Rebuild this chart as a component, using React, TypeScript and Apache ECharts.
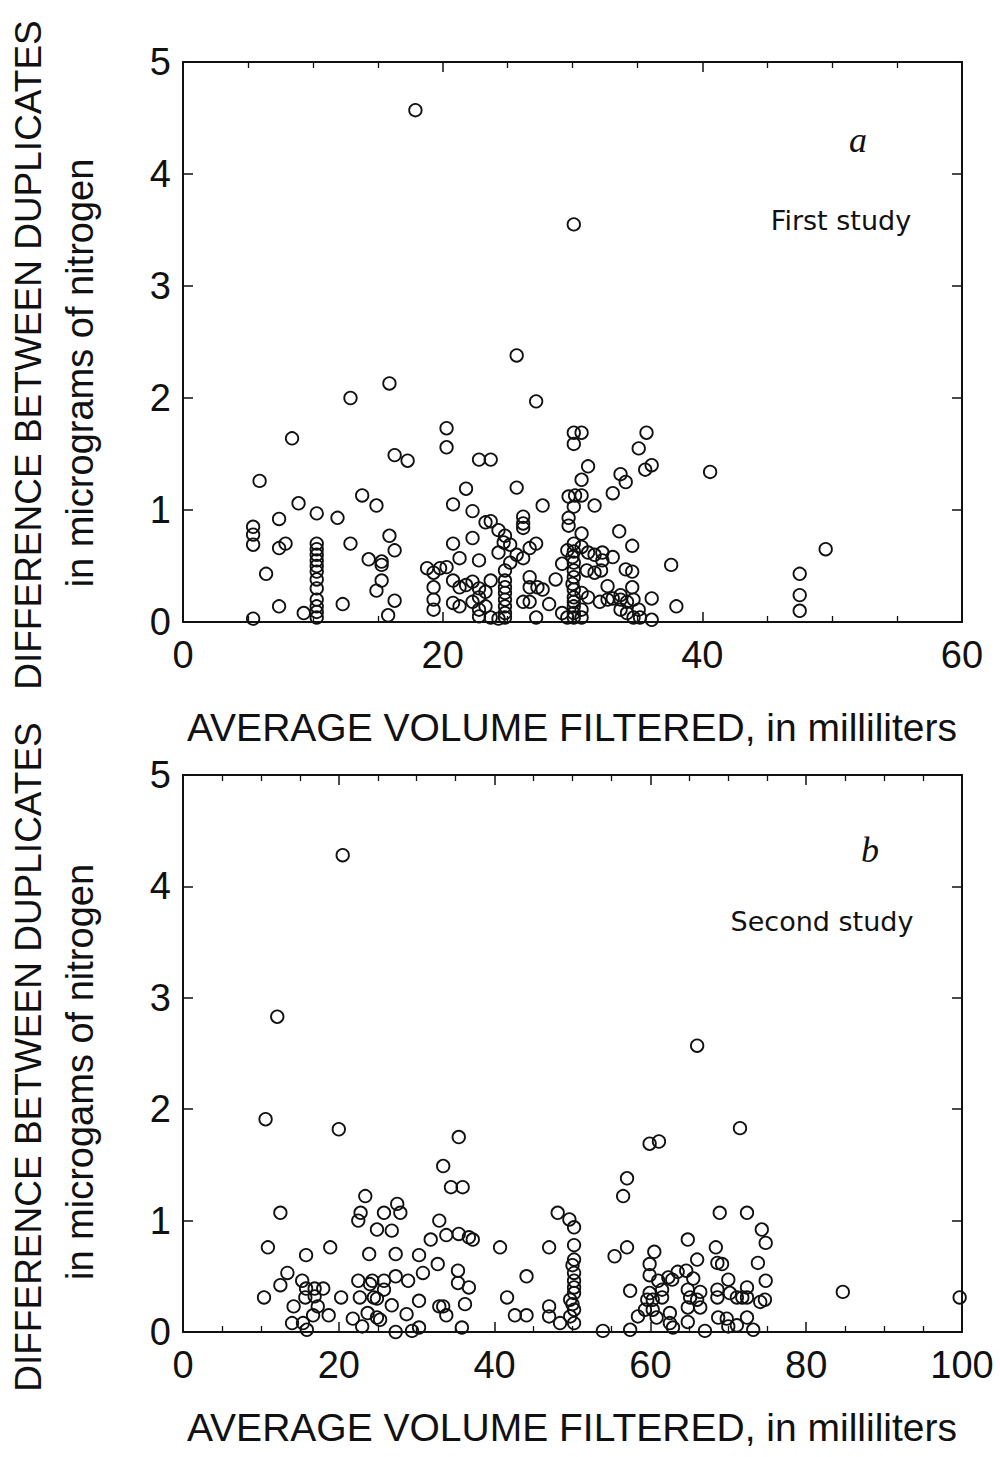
import React, { useEffect, useRef } from "react";
import * as echarts from "echarts";

// Study a: [average volume filtered (mL), difference between duplicates (µg N)]
const firstStudyPoints: number[][] = [
  [17.9, 4.57], [30.1, 3.55], [25.7, 2.38], [15.9, 2.13], [12.9, 2.0], [27.2, 1.97], [8.4, 1.64],
  [20.3, 1.73], [20.3, 1.56], [16.3, 1.49], [17.3, 1.44], [22.8, 1.45], [23.7, 1.45], [30.1, 1.69],
  [30.7, 1.69], [30.1, 1.59], [35.7, 1.69], [35.1, 1.55], [35.6, 1.36], [36.1, 1.4], [31.2, 1.39],
  [33.7, 1.32], [34.1, 1.25], [40.6, 1.34], [5.9, 1.26], [33.1, 1.15], [30.7, 1.27], [29.7, 1.12],
  [30.2, 1.13], [30.7, 1.13], [30.1, 1.03], [31.7, 1.04], [27.7, 1.04], [25.7, 1.2], [21.8, 1.19],
  [13.8, 1.13], [14.9, 1.04], [8.9, 1.06], [20.8, 1.05], [10.3, 0.97], [11.9, 0.93], [7.4, 0.92],
  [22.3, 0.99], [23.3, 0.89], [23.7, 0.9], [26.2, 0.94], [26.2, 0.88], [26.2, 0.84], [29.7, 0.93],
  [29.7, 0.86], [33.6, 0.81], [30.7, 0.79], [24.3, 0.82], [24.8, 0.77], [5.4, 0.85], [5.4, 0.78],
  [5.4, 0.69], [15.9, 0.77], [16.3, 0.64], [7.9, 0.7], [7.4, 0.66], [12.9, 0.7], [14.3, 0.56],
  [15.3, 0.54], [15.3, 0.51], [15.3, 0.37], [14.9, 0.28], [16.3, 0.19], [15.8, 0.06], [6.4, 0.43],
  [7.4, 0.14], [9.3, 0.08], [12.3, 0.16], [5.4, 0.03],
  [10.3, 0.7], [10.3, 0.65], [10.3, 0.6], [10.3, 0.55], [10.3, 0.5], [10.3, 0.45], [10.3, 0.38],
  [10.3, 0.3], [10.3, 0.2], [10.3, 0.14], [10.3, 0.09], [10.3, 0.04],
  [34.6, 0.68], [37.6, 0.51], [20.8, 0.7], [22.3, 0.75], [21.3, 0.57], [22.8, 0.55], [24.7, 0.71],
  [25.2, 0.69], [27.2, 0.7], [26.7, 0.66], [24.3, 0.62], [25.2, 0.53], [25.7, 0.6], [26.2, 0.57],
  [29.6, 0.64], [30.1, 0.7], [30.7, 0.67], [30.1, 0.63], [31.2, 0.62], [31.7, 0.6], [32.3, 0.62],
  [32.3, 0.55], [33.1, 0.58], [29.2, 0.52], [30.1, 0.53], [30.1, 0.46], [31.1, 0.46], [31.7, 0.44],
  [32.2, 0.46], [34.1, 0.47], [34.6, 0.45], [18.8, 0.48], [19.3, 0.44], [19.8, 0.48], [20.3, 0.49],
  [19.3, 0.31], [19.3, 0.2], [19.3, 0.11], [20.8, 0.37], [21.3, 0.31], [21.8, 0.33], [22.3, 0.36],
  [22.8, 0.3], [23.3, 0.27], [22.8, 0.22], [23.7, 0.37], [24.8, 0.46], [24.8, 0.37], [24.8, 0.31],
  [24.8, 0.26], [24.8, 0.2], [24.8, 0.14], [24.8, 0.08], [24.8, 0.04], [20.8, 0.17], [21.3, 0.14],
  [22.3, 0.18], [22.8, 0.11], [23.3, 0.14], [22.8, 0.05], [23.7, 0.04], [24.3, 0.03], [26.7, 0.4],
  [26.7, 0.31], [27.3, 0.31], [27.7, 0.29], [26.2, 0.18], [26.7, 0.18], [28.2, 0.16], [28.7, 0.38],
  [27.2, 0.04], [29.2, 0.08], [29.6, 0.04], [30.1, 0.4], [30.1, 0.29], [30.1, 0.22], [30.1, 0.18],
  [30.1, 0.14], [30.1, 0.08], [30.1, 0.04], [30.0, 0.58], [30.0, 0.34], [30.7, 0.26], [30.7, 0.11],
  [30.7, 0.04], [31.2, 0.22], [32.1, 0.18], [32.7, 0.2], [33.1, 0.21], [33.7, 0.2], [34.2, 0.18],
  [34.7, 0.2], [32.7, 0.32], [33.7, 0.24], [34.6, 0.31], [33.7, 0.11], [34.2, 0.08], [34.7, 0.04],
  [35.1, 0.11], [35.2, 0.04], [36.1, 0.02], [36.1, 0.21], [38.0, 0.14], [47.5, 0.43], [47.5, 0.24],
  [47.5, 0.1], [49.5, 0.65],
];

// Study b
const secondStudyPoints: number[][] = [
  [20.5, 4.28], [12.1, 2.83], [66.0, 2.57], [10.6, 1.91], [20.0, 1.82], [35.4, 1.75], [71.5, 1.83],
  [59.9, 1.69], [61.1, 1.71], [33.4, 1.49], [34.4, 1.3], [35.9, 1.3], [57.0, 1.38], [56.5, 1.22],
  [23.4, 1.22], [22.8, 1.07], [22.5, 1.0], [12.5, 1.07], [25.8, 1.07], [27.5, 1.15], [27.9, 1.07],
  [24.9, 0.92], [26.8, 0.91], [32.9, 1.0], [31.8, 0.83], [33.8, 0.87], [35.4, 0.88], [36.7, 0.85],
  [37.2, 0.83], [10.9, 0.76], [18.9, 0.76], [15.8, 0.69], [23.9, 0.7], [27.3, 0.7], [30.3, 0.69],
  [32.7, 0.61], [30.8, 0.53], [13.4, 0.53], [12.5, 0.42], [10.4, 0.31], [15.3, 0.46], [15.8, 0.39],
  [16.9, 0.39], [18.0, 0.39], [15.7, 0.31], [16.9, 0.32], [14.2, 0.23], [17.3, 0.23], [16.7, 0.15],
  [18.7, 0.15], [14.0, 0.08], [15.4, 0.08], [15.9, 0.02], [20.3, 0.31], [22.5, 0.46], [24.3, 0.46],
  [25.8, 0.46], [27.3, 0.5], [28.9, 0.46], [24.0, 0.43], [25.8, 0.38], [22.7, 0.31], [24.5, 0.31],
  [24.9, 0.3], [26.8, 0.24], [28.7, 0.16], [30.3, 0.28], [21.8, 0.12], [23.0, 0.05], [23.7, 0.17],
  [24.9, 0.13], [25.3, 0.11], [27.3, 0.0], [29.4, 0.01], [30.3, 0.04], [32.9, 0.23], [33.4, 0.23],
  [33.8, 0.15], [35.3, 0.55], [35.3, 0.44], [36.7, 0.4], [36.2, 0.25], [35.8, 0.04],
  [48.1, 1.07], [49.6, 1.01], [50.2, 0.94], [68.9, 1.07], [72.4, 1.07], [74.3, 0.92], [74.8, 0.8],
  [64.8, 0.83], [68.4, 0.76], [40.7, 0.76], [47.0, 0.76],
  [50.2, 0.78], [50.2, 0.65], [50.2, 0.53], [50.2, 0.46], [50.2, 0.4], [50.2, 0.35], [49.7, 0.29],
  [50.2, 0.2], [49.7, 0.14], [50.2, 0.08], [50.0, 0.6], [50.0, 0.25],
  [57.0, 0.76], [55.4, 0.68], [60.5, 0.72], [59.9, 0.61], [59.9, 0.51], [66.0, 0.65], [69.2, 0.61],
  [68.6, 0.62], [73.8, 0.62], [74.8, 0.46], [44.1, 0.5], [41.6, 0.31], [42.6, 0.15], [44.1, 0.15],
  [47.0, 0.23], [47.0, 0.14], [48.4, 0.08], [53.9, 0.01], [57.4, 0.37], [57.4, 0.02], [58.4, 0.14],
  [59.3, 0.2], [59.6, 0.29], [59.9, 0.35], [60.3, 0.29], [60.3, 0.2], [60.8, 0.13], [61.0, 0.46],
  [61.5, 0.38], [61.5, 0.31], [62.3, 0.49], [62.8, 0.47], [63.5, 0.54], [64.6, 0.55], [65.5, 0.48],
  [64.8, 0.38], [66.4, 0.36], [65.1, 0.31], [66.0, 0.29], [66.4, 0.22], [64.8, 0.22], [64.8, 0.09],
  [62.5, 0.17], [62.5, 0.08], [62.9, 0.04], [68.6, 0.38], [68.6, 0.31], [70.0, 0.47], [70.2, 0.35],
  [71.1, 0.31], [71.8, 0.31], [72.4, 0.4], [72.4, 0.31], [68.7, 0.13], [69.8, 0.12], [70.0, 0.05],
  [71.1, 0.06], [72.4, 0.13], [73.2, 0.02], [74.1, 0.27], [74.7, 0.29], [67.0, 0.01], [84.7, 0.36],
  [99.7, 0.31],
];

const xRangeA = [0, 60];
const xRangeB = [0, 100];
const yRange = [0, 5];

const xTitle = "AVERAGE VOLUME FILTERED, in milliliters";
const yTitle = "DIFFERENCE BETWEEN DUPLICATES";
const yUnitsA = "in micrograms of nitrogen";
const yUnitsB = "in microgams of nitrogen";

const FONT = "'Liberation Sans', Arial, sans-serif";
const NOTE_FONT = "'DejaVu Sans', sans-serif";
const INK = "#111";

function xAxes(gridIndex: number, range: number[]) {
  const base = {
    gridIndex,
    type: "value" as const,
    min: range[0],
    max: range[1],
    interval: 20,
    axisLine: { show: true, onZero: false, lineStyle: { color: INK, width: 2 } },
    axisTick: { show: true, inside: true, length: 10, lineStyle: { color: INK, width: 1.5 } },
    minorTick: { show: true, splitNumber: 4, length: 6, lineStyle: { color: INK, width: 1.3 } },
    splitLine: { show: false },
    minorSplitLine: { show: false },
  };
  return [
    {
      ...base,
      position: "bottom",
      axisLabel: { show: true, fontSize: 38, color: INK, fontFamily: FONT, margin: 14 },
    },
    { ...base, position: "top", axisLabel: { show: false } },
  ];
}

function yAxes(gridIndex: number) {
  const base = {
    gridIndex,
    type: "value" as const,
    min: yRange[0],
    max: yRange[1],
    interval: 1,
    axisLine: { show: true, onZero: false, lineStyle: { color: INK, width: 2 } },
    axisTick: { show: true, inside: true, length: 10, lineStyle: { color: INK, width: 1.5 } },
    splitLine: { show: false },
  };
  return [
    {
      ...base,
      position: "left",
      axisLabel: { show: true, fontSize: 38, color: INK, fontFamily: FONT, margin: 12 },
    },
    { ...base, position: "right", axisLabel: { show: false } },
  ];
}

function scatter(data: number[][], xi: number, yi: number) {
  return {
    type: "scatter",
    xAxisIndex: xi,
    yAxisIndex: yi,
    data,
    symbol: "circle",
    symbolSize: 12.5,
    itemStyle: { color: "rgba(0,0,0,0)", borderColor: INK, borderWidth: 1.8, opacity: 1 },
    emphasis: { disabled: true },
    silent: true,
  };
}

function txt(text: string, x: number, y: number, size: number, extra: any = {}) {
  return {
    type: "text",
    x,
    y,
    rotation: extra.rotation || 0,
    silent: true,
    style: {
      text,
      fontSize: size,
      fontFamily: extra.fontFamily || FONT,
      fontStyle: extra.fontStyle || "normal",
      fill: INK,
      align: "center",
      verticalAlign: "middle",
    },
  };
}

export default function App() {
  const ref = useRef<HTMLDivElement>(null);
  useEffect(() => {
    if (!ref.current) return;
    const chart = echarts.init(ref.current, undefined, { renderer: "svg" });
    const rot = Math.PI / 2;
    chart.setOption({
      animation: false,
      backgroundColor: "#fff",
      grid: [
        { left: 183, top: 62, width: 779, height: 560 },
        { left: 183, top: 775, width: 779, height: 557 },
      ],
      xAxis: [...xAxes(0, xRangeA), ...xAxes(1, xRangeB)],
      yAxis: [...yAxes(0), ...yAxes(1)],
      series: [scatter(firstStudyPoints, 0, 0), scatter(secondStudyPoints, 2, 2)],
      graphic: [
        txt(yTitle, 28, 355, 37, { rotation: rot }),
        txt(yUnitsA, 80, 373, 38, { rotation: rot }),
        txt(yTitle, 28, 1057, 37, { rotation: rot }),
        txt(yUnitsB, 80, 1072, 38, { rotation: rot }),
        txt(xTitle, 572, 727, 39),
        txt(xTitle, 572, 1427, 39),
        txt("a", 858, 140, 36, { fontFamily: "'Liberation Serif', serif", fontStyle: "italic" }),
        txt("First study", 841, 220, 27, { fontFamily: NOTE_FONT }),
        txt("b", 870, 850, 36, { fontFamily: "'Liberation Serif', serif", fontStyle: "italic" }),
        txt("Second study", 822, 921, 27, { fontFamily: NOTE_FONT }),
      ],
    });
    return () => chart.dispose();
  }, []);
  return (
    <div
      ref={ref}
      style={{ position: "absolute", left: 0, top: 0, width: 1000, height: 1457, background: "#fff" }}
    />
  );
}
